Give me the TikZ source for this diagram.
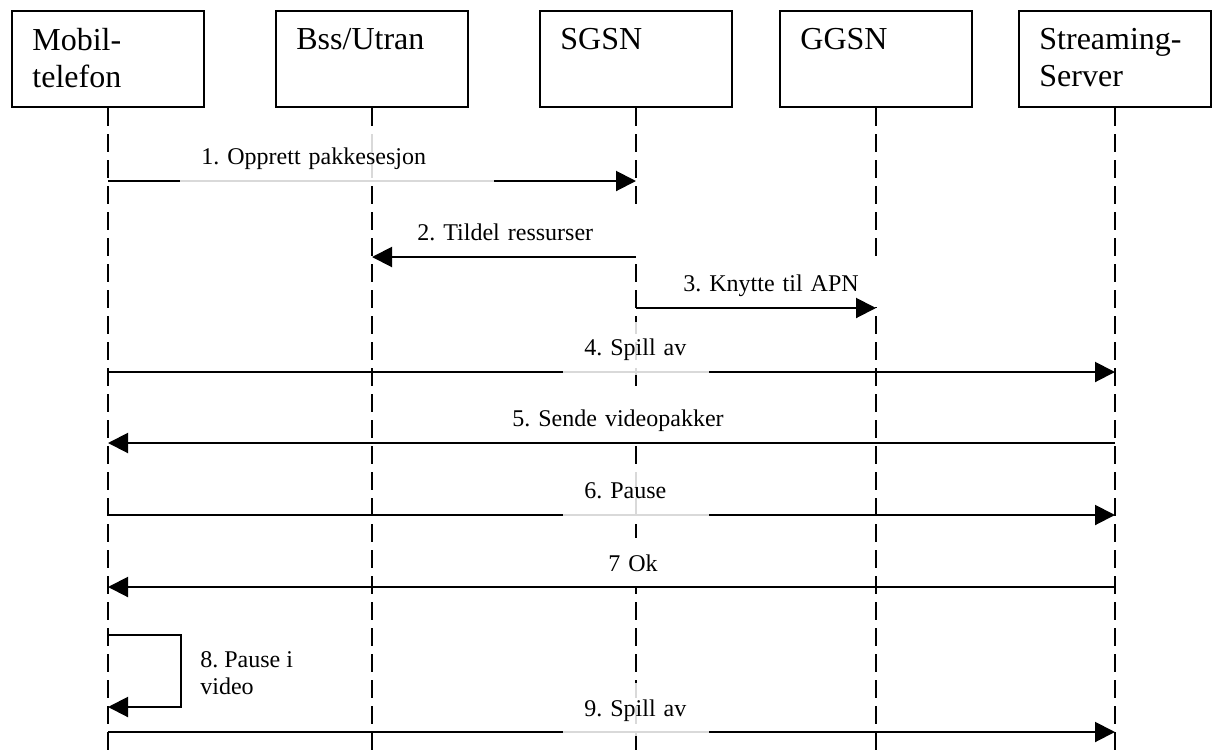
\documentclass[tikz,border=0pt]{standalone}
\usepackage{fontspec}
\setmainfont{Liberation Serif}
\usetikzlibrary{arrows.meta}

\begin{document}
\begin{tikzpicture}[
    x=0.5pt, y=-0.5pt,
    actor/.style={draw, line width=1pt, minimum width=96pt, minimum height=48pt, inner sep=0pt},
    actortext/.style={anchor=north west, inner sep=0pt, align=left, font=\fontsize{16}{18.5}\selectfont\frenchspacing},
    lifeline/.style={line width=0.8pt, dash pattern=on 9pt off 4pt},
    msg/.style={-{Triangle[length=10pt, width=10pt]}, line width=1pt},
    msgtext/.style={anchor=base west, fill=white, inner xsep=10.5pt, inner ysep=0pt,
        text height=16.5pt, text depth=7.9pt, align=left, font=\fontsize{12}{13.5}\selectfont\frenchspacing},
    cover/.style={fill opacity=0.85, text opacity=1, text depth=10pt},
    notetext/.style={anchor=north west, inner sep=0pt, align=left, font=\fontsize{12}{13.5}\selectfont\frenchspacing}
]
\useasboundingbox (0,0) rectangle (1212,751);

% Actors
\node[actor] (mob) at (108,59) {};
\node[actor] (bss) at (372,59) {};
\node[actor] (sgsn) at (636,59) {};
\node[actor] (ggsn) at (876,59) {};
\node[actor] (srv) at (1115,59) {};
\node[actortext] (mobtxt) at ([shift={(21,18)}]mob.north west) {Mobil-\\telefon};
\node[actortext] (bsstxt) at ([shift={(21,18)}]bss.north west) {Bss/Utran};
\node[actortext] (sgsntxt) at ([shift={(21,18)}]sgsn.north west) {SGSN};
\node[actortext] (ggsntxt) at ([shift={(21,18)}]ggsn.north west) {GGSN};
\node[actortext] (srvtxt) at ([shift={(21,18)}]srv.north west) {Streaming-\\Server};

% Lifelines
\foreach \n in {mob,bss,sgsn,ggsn,srv}
    \draw[lifeline] (\n.south) -- (\n |- 0,751);

% Labels above their line
\node[msgtext, text width=106pt] (lab2) at (396,240) {2. Tildel ressurser};
\node[msgtext, text width=93pt] (lab3) at (662,291) {3. Knytte til APN};
\node[msgtext, text width=108pt] (lab5) at (491,426) {5. Sende videopakker};
\node[msgtext, text width=29pt] (lab7) at (587,571) {7 Ok};
\node[notetext] (lab8) at (200,651) {8. Pause i\\video};

% Messages
\draw[msg] (mob |- 0,181) -- (sgsn |- 0,181);
\draw[msg] (sgsn |- 0,257) -- (bss |- 0,257);
\draw[msg] (sgsn |- 0,308) -- (ggsn |- 0,308);
\draw[msg] (mob |- 0,372) -- (srv |- 0,372);
\draw[msg] (srv |- 0,443) -- (mob |- 0,443);
\draw[msg] (mob |- 0,515) -- (srv |- 0,515);
\draw[msg] (srv |- 0,587) -- (mob |- 0,587);
\draw[msg] (mob |- 0,635) -- ++(73,0) |- (mob |- 0,707);
\draw[msg] (mob |- 0,732) -- (srv |- 0,732);

% Labels over their line
\node[msgtext, cover, text width=136pt] (lab1) at (180,164) {1. Opprett pakkesesjon};
\node[msgtext, cover, text width=52pt] (lab4) at (563,355) {4. Spill av};
\node[msgtext, cover, text width=52pt] (lab6) at (563,498) {6. Pause};
\node[msgtext, cover, text width=52pt] (lab9) at (563,716) {9. Spill av};

\end{tikzpicture}
\end{document}
